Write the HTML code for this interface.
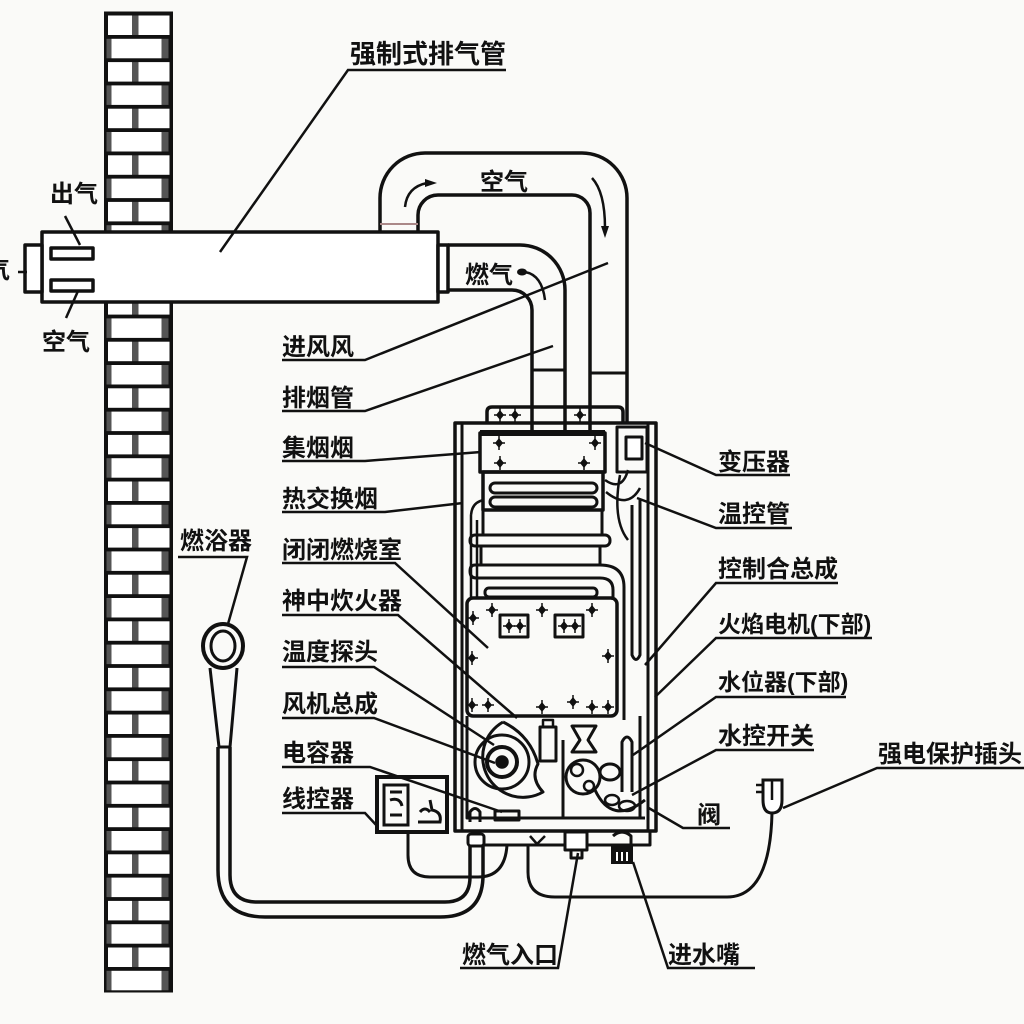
<!DOCTYPE html>
<html><head><meta charset="utf-8">
<style>
html,body{margin:0;padding:0;background:#fafaf8;}
svg{display:block}
text{font-family:"Liberation Sans","Noto Sans CJK SC","WenQuanYi Zen Hei",sans-serif;font-weight:700;fill:#111;font-size:24px}
</style></head><body>
<svg width="1024" height="1024" viewBox="0 0 1024 1024" xmlns="http://www.w3.org/2000/svg">
<defs>
<g id="rA"><rect x="108" y="2.5" width="24" height="19.5" fill="#fff"/><rect x="132" y="2.5" width="6.5" height="19.5" fill="#555"/><rect x="138.5" y="2.5" width="31" height="19.5" fill="#fff"/></g>
<g id="rB"><rect x="106.5" y="2.5" width="5" height="19.5" fill="#555"/><rect x="111.5" y="2.5" width="50" height="19.5" fill="#fff"/><rect x="161.5" y="2.5" width="7" height="19.5" fill="#555"/></g>
<g id="dm"><path d="M0,-5 L4,0 L0,5 L-4,0 Z" fill="#111"/><path d="M-6,0 H6 M0,-7 V7" stroke="#111" stroke-width="1.5"/></g>
</defs>
<rect width="1024" height="1024" fill="#fafaf8"/>

<!-- brick wall -->
<rect x="104" y="11.5" width="69" height="981" fill="#111"/>
<use href="#rA" y="13"/><use href="#rB" y="36.3"/><use href="#rA" y="59.6"/><use href="#rB" y="82.9"/>
<use href="#rA" y="106.2"/><use href="#rB" y="129.5"/><use href="#rA" y="152.8"/><use href="#rB" y="176.1"/>
<use href="#rA" y="199.4"/><use href="#rB" y="222.7"/><use href="#rA" y="246"/><use href="#rB" y="269.3"/>
<use href="#rA" y="292.6"/><use href="#rB" y="315.9"/><use href="#rA" y="339.2"/><use href="#rB" y="362.5"/>
<use href="#rA" y="385.8"/><use href="#rB" y="409.1"/><use href="#rA" y="432.4"/><use href="#rB" y="455.7"/>
<use href="#rA" y="479"/><use href="#rB" y="502.3"/><use href="#rA" y="525.6"/><use href="#rB" y="548.9"/>
<use href="#rA" y="572.2"/><use href="#rB" y="595.5"/><use href="#rA" y="618.8"/><use href="#rB" y="642.1"/>
<use href="#rA" y="665.4"/><use href="#rB" y="688.7"/><use href="#rA" y="712"/><use href="#rB" y="735.3"/>
<use href="#rA" y="758.6"/><use href="#rB" y="781.9"/><use href="#rA" y="805.2"/><use href="#rB" y="828.5"/>
<use href="#rA" y="851.8"/><use href="#rB" y="875.1"/><use href="#rA" y="898.4"/><use href="#rB" y="921.7"/>
<use href="#rA" y="945"/><use href="#rB" y="968.3"/>

<g stroke="#111" stroke-width="3.5" fill="none" stroke-linejoin="round">
<!-- air duct -->
<path d="M380,232 V198 A45,45 0 0 1 425,153 H582 A45,45 0 0 1 627,198 V423"/>
<path d="M418,232 V215 A20,20 0 0 1 438,195 H572 A18,18 0 0 1 590,213 V432"/>
<path d="M380,224 H418" stroke-width="2" stroke="#a88"/>
<path d="M590,373 H627" stroke-width="3"/>
<!-- flue pipe -->
<path d="M448,245 H520 A45,45 0 0 1 565,290 V432"/>
<path d="M448,290 H512 A20,20 0 0 1 532,310 V432"/>
<path d="M532,370 H565" stroke-width="3"/>
<!-- horizontal exhaust pipe -->
<rect x="42" y="232" width="396" height="70" fill="#fff"/>
<rect x="25" y="245" width="17" height="47" fill="#fff"/>
<rect x="438" y="245" width="10" height="47" fill="#fff"/>
<rect x="51" y="248" width="42" height="11" fill="#fff"/>
<rect x="51" y="280" width="42" height="11" fill="#fff"/>
</g>

<!-- flow arrows -->
<g stroke="#111" stroke-width="2.5" fill="none">
<path d="M405,207 Q407,187 427,183"/>
<path d="M592,178 Q605,192 605,228"/>
<path d="M525,272 Q542,275 545,300"/>
</g>
<g fill="#111">
<path d="M425,179 L437,183 L425,187 Z"/>
<path d="M601,226 L605,238 L609,226 Z"/>
<ellipse cx="522" cy="272" rx="5" ry="3.5"/>
</g>

<!-- leader lines -->
<g stroke="#111" stroke-width="2.5" fill="none">
<path d="M506,70 H348 L220,252"/>
<path d="M65,216 L80,245"/>
<path d="M78,291 L66,318"/>
<path d="M18,272 H27"/>
<path d="M282,360 H365 L608,263"/>
<path d="M282,411 H365 L553,346"/>
<path d="M282,461 H365 L481,452"/>
<path d="M282,512 H385 L463,503"/>
<path d="M178,557 H247 L228,624"/>
<path d="M282,563 H395 L488,648"/>
<path d="M282,615 H398 L517,718"/>
<path d="M282,667 H374 L494,745"/>
<path d="M282,718 H374 L495,763"/>
<path d="M282,767 H370 L502,812"/>
<path d="M282,813 H365 L378,827"/>
<path d="M790,475 H716 L645,443"/>
<path d="M792,528 H716 L637,498"/>
<path d="M838,583 H716 L645,665"/>
<path d="M872,638 H716 L655,697"/>
<path d="M846,697 H716 L633,755"/>
<path d="M814,750 H716 L632,795"/>
<path d="M730,828 H683 L647,807"/>
<path d="M1024,768 H877 L783,808"/>
<path d="M460,968 H558 L578,853"/>
<path d="M755,968 H668 L633,862"/>
</g>

<!-- heater -->
<g stroke="#111" stroke-width="3.5" fill="none" stroke-linejoin="round">
<path d="M487,423 V412 Q487,407 492,407 H618 Q623,407 623,412 V423"/>
<rect x="455" y="423" width="201" height="408"/>
<path d="M462,423 V831 M648,423 V831" stroke-width="3"/>
<!-- collector -->
<rect x="480" y="433" width="125" height="39"/>
<path d="M480,433 H605" stroke-width="6"/>
<!-- heat exchanger -->
<rect x="483" y="472" width="120" height="38"/>
<rect x="490" y="483" width="107" height="10" rx="5" stroke-width="3"/>
<rect x="490" y="497" width="107" height="10" rx="5" stroke-width="3"/>
<path d="M483,510 V535 M602,510 V535" stroke-width="3"/>
<rect x="470" y="535" width="140" height="11" rx="5" stroke-width="3"/>
<path d="M481,546 V565 M600,546 V565" stroke-width="3"/>
<path d="M600,565 H475 Q470,565 470,571 Q470,578 476,578 H600" stroke-width="3"/>
<path d="M600,565 Q624,565 624,587 V720 M600,578 Q613,578 613,590 V600" stroke-width="3"/>
<rect x="485" y="588" width="112" height="9" rx="4" stroke-width="3"/>
<path d="M471,515 V598 M477,520 V598 M471,515 Q472,502 484,500" stroke-width="2.5"/>
<!-- right column pipes -->
<path d="M632,505 V655 Q636,664 640,655 V500" stroke-width="3"/>
<path d="M605,480 Q622,492 628,470 M606,492 Q628,510 640,488 M620,475 Q612,520 628,540" stroke-width="2.5"/>
<!-- transformer -->
<rect x="617" y="427" width="30" height="45" stroke-width="3"/>
<rect x="626" y="437" width="16" height="22" stroke-width="3" fill="#fff"/>
<!-- combustion chamber -->
<rect x="467" y="598" width="150" height="118" rx="6"/>
<rect x="500" y="615" width="28" height="22" stroke-width="3"/>
<rect x="555" y="615" width="28" height="22" stroke-width="3"/>
<path d="M467,716 V818 H645 M640,716 V818" stroke-width="3"/>
<!-- fan -->
<path d="M503,722 A40,40 0 1 0 543,792 Q530,778 538,764 Q530,735 503,722" stroke-width="3"/>
<circle cx="502" cy="762" r="27" stroke-width="3"/>
<circle cx="502" cy="762" r="15" stroke-width="4"/>
<circle cx="502" cy="762" r="5" fill="#111"/>
<!-- capacitor -->
<rect x="540" y="727" width="16" height="34" stroke-width="3"/>
<rect x="543" y="720" width="10" height="7" stroke-width="2.5"/>
<path d="M563,740 V818" stroke-width="3"/>
<!-- gas valve -->
<path d="M572,726 H596 L588,740 L596,752 H572 L580,740 Z" stroke-width="3"/>
<circle cx="583" cy="777" r="17" stroke-width="3"/>
<circle cx="577" cy="770" r="6" stroke-width="2.5"/>
<circle cx="589" cy="786" r="5" stroke-width="2.5"/>
<!-- water control -->
<path d="M622,792 V742 Q627,732 632,742 V792" stroke-width="3"/>
<ellipse cx="610" cy="772" rx="10" ry="8" stroke-width="3"/>
<ellipse cx="612" cy="800" rx="7" ry="5" stroke-width="2.5"/>
<ellipse cx="627" cy="806" rx="8" ry="5" stroke-width="2.5"/>
<path d="M595,790 Q612,826 645,800" stroke-width="3"/>
<path d="M470,822 V812 Q475,805 480,812 V822" stroke-width="3"/>
<rect x="495" y="811" width="24" height="9" stroke-width="3"/>
<!-- bottom plate -->
<path d="M478,831 V845 H650 V831" stroke-width="3"/>
<path d="M530,836 L537,844 L545,836" stroke-width="2.5"/>
<rect x="468" y="834" width="16" height="12" rx="3" stroke-width="3" fill="#fff"/>
<rect x="565" y="832" width="22" height="18" stroke-width="3" fill="#fff"/>
<rect x="571" y="850" width="11" height="8" stroke-width="3"/>
<path d="M613,836 Q622,828 631,836 V845" stroke-width="3"/>
</g>
<rect x="611" y="845" width="22" height="19" fill="#111"/>
<g stroke="#fff" stroke-width="2"><path d="M617,852 V861 M622,852 V861 M627,852 V861"/></g>

<!-- small diamonds -->
<use href="#dm" x="500" y="415"/><use href="#dm" x="515" y="415"/><use href="#dm" x="580" y="415"/>
<use href="#dm" x="499" y="443"/><use href="#dm" x="595" y="443"/><use href="#dm" x="500" y="463"/><use href="#dm" x="584" y="463"/>
<use href="#dm" x="492" y="610"/><use href="#dm" x="542" y="610"/><use href="#dm" x="592" y="610"/>
<use href="#dm" x="473" y="618"/><use href="#dm" x="472" y="658"/><use href="#dm" x="608" y="656"/>
<use href="#dm" x="472" y="705"/><use href="#dm" x="488" y="705"/><use href="#dm" x="542" y="707"/>
<use href="#dm" x="573" y="702"/><use href="#dm" x="592" y="707"/><use href="#dm" x="608" y="707"/>
<use href="#dm" x="509" y="626"/><use href="#dm" x="520" y="626"/><use href="#dm" x="564" y="626"/><use href="#dm" x="575" y="626"/>

<!-- remote controller -->
<g stroke="#111" fill="none">
<rect x="377" y="777" width="70" height="55" stroke-width="4"/>
<rect x="384" y="785" width="24" height="40" stroke-width="3"/>
<path d="M390,792 H402 M390,800 Q400,797 402,806 M390,815 H402" stroke-width="3"/>
<path d="M418,822 H440 Q442,812 432,810 L430,800 M420,812 Q425,806 430,812" stroke-width="3"/>
</g>

<!-- shower -->
<g stroke="#111" fill="none">
<ellipse cx="223" cy="646" rx="20" ry="22" stroke-width="4"/>
<ellipse cx="223" cy="646" rx="12" ry="15" stroke-width="3"/>
<path d="M210,668 L219,747 M237,668 L230,747 M219,747 H230" stroke-width="3"/>
<path d="M218,747 V870 Q218,917 265,917 H440 Q483,917 483,875 V846" stroke-width="3.5"/>
<path d="M230,747 V875 Q230,902 257,902 H445 Q470,902 470,877 V846" stroke-width="3.5"/>
<path d="M408,832 V855 Q408,877 430,877 H478 Q505,877 507,845" stroke-width="3"/>
<!-- plug & cable -->
<path d="M528,845 V872 Q528,897 555,897 H727 Q770,897 772,813" stroke-width="3"/>
<path d="M763,780 H782 V800 Q782,813 772,813 Q763,813 763,800 Z" stroke-width="3" fill="#fff"/>
<path d="M772,780 V800 M756,785 H763 M756,792 H763" stroke-width="2.5"/>
</g>

<!-- labels -->
<text x="350" y="63" style="font-size:26px">强制式排气管</text>
<text x="50" y="202">出气</text>
<text x="42" y="350">空气</text>
<text x="-14" y="278">气</text>
<text x="480" y="190">空气</text>
<text x="465" y="283">燃气</text>
<text x="282" y="355">进风风</text>
<text x="282" y="406">排烟管</text>
<text x="282" y="456">集烟烟</text>
<text x="282" y="507">热交换烟</text>
<text x="180" y="549">燃浴器</text>
<text x="282" y="558">闭闭燃烧室</text>
<text x="282" y="609">神中炊火器</text>
<text x="282" y="660">温度探头</text>
<text x="282" y="712">风机总成</text>
<text x="282" y="761">电容器</text>
<text x="282" y="807">线控器</text>
<text x="718" y="470">变压器</text>
<text x="718" y="522">温控管</text>
<text x="718" y="577">控制合总成</text>
<text x="718" y="632" style="font-size:23px">火焰电机(下部)</text>
<text x="718" y="690" style="font-size:23px">水位器(下部)</text>
<text x="718" y="744">水控开关</text>
<text x="697" y="823">阀</text>
<text x="878" y="762">强电保护插头</text>
<text x="462" y="963">燃气入口</text>
<text x="668" y="963">进水嘴</text>
</svg>
</body></html>
